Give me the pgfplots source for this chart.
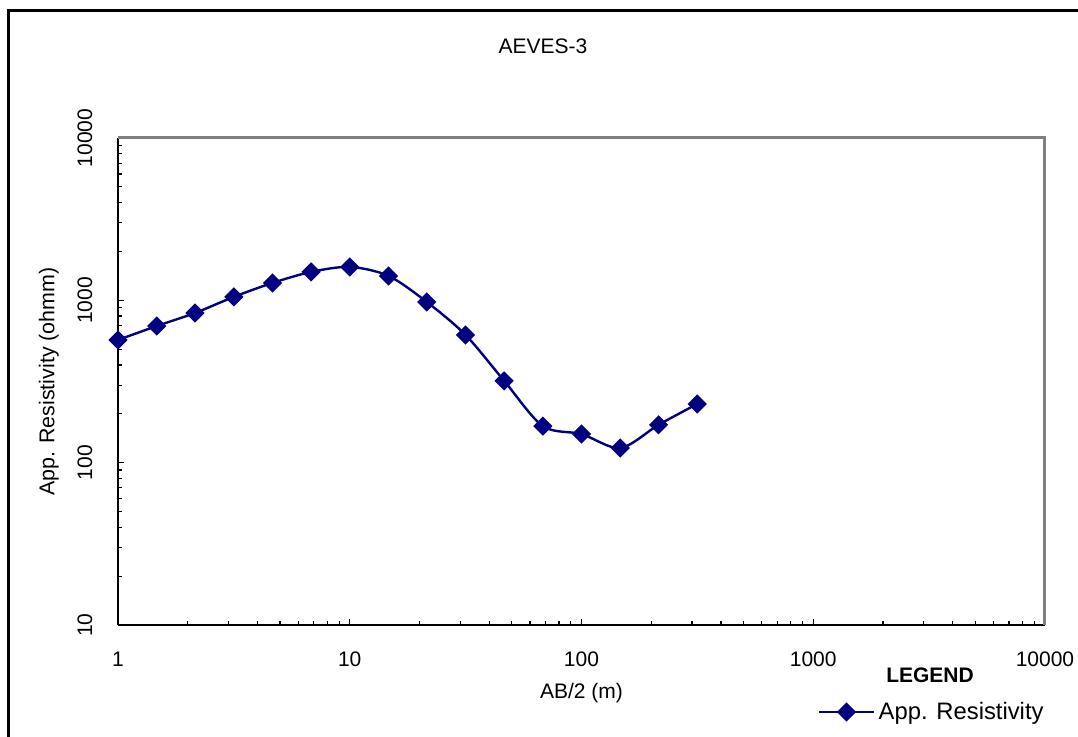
\documentclass[border=0pt]{standalone}
\usepackage{fontspec}
\setmainfont{Liberation Sans}
\usepackage{pgfplots}
\pgfplotsset{compat=1.18}
\definecolor{navyline}{RGB}{0,0,128}
\definecolor{framegray}{RGB}{128,128,128}
\begin{document}
\begin{tikzpicture}
\useasboundingbox (0,0) rectangle (539pt,368pt);
% outer chart frame (top and left edges visible)
\draw[line width=1.5pt,black] (4pt,-5pt) -- (4pt,363pt) -- (545pt,363pt);
\begin{axis}[
  at={(59pt,55.5pt)}, anchor=south west,
  scale only axis, width=463.5pt, height=243.5pt,
  xmode=log, ymode=log,
  xmin=1, xmax=10000, ymin=10, ymax=10000,
  axis x line*=bottom, axis y line*=left,
  axis line style={line width=1pt, black, -},
  tick align=inside,
  major tick length=3pt, minor tick length=2pt,
  every tick/.style={black, line width=0.6pt},
  xtick={1,10,100,1000,10000},
  xticklabels={1,10,100,1000,10000},
  ytick={10,100,1000,10000},
  yticklabels={10,100,1000,10000},
  every tick label/.append style={font=\fontsize{10.5}{12}\selectfont},
  xticklabel style={anchor=center, yshift=-17pt},
  yticklabel style={anchor=center, xshift=-16.5pt, rotate=90},
  title={AEVES-3},
  title style={at={(0.4585,1.164)}, anchor=center, font=\fontsize{10.5}{12}\selectfont},
  xlabel={AB/2 (m)},
  xlabel style={at={(0.5,-0.1396)}, anchor=center, font=\fontsize{10.5}{12}\selectfont},
  ylabel={App. Resistivity (ohmm)},
  ylabel style={at={(-0.0746,0.5)}, anchor=center, rotate=0, font=\fontsize{10.7}{12}\selectfont},
  clip=false,
  legend style={at={(0.755,-0.1786)}, anchor=west, draw=none, fill=none,
    inner sep=0pt, font=\fontsize{11.9}{13}\selectfont,
    nodes={font=\fontsize{11.9}{13}\selectfont},
    /tikz/every even column/.append style={column sep=2pt}},
  legend image code/.code={%
    \draw[mark repeat=2, mark phase=2] plot coordinates {(0pt,0pt) (13.5pt,0pt) (27pt,0pt)};},
]
\draw[framegray, line width=1.5pt] (rel axis cs:0,1) -- (rel axis cs:1,1) -- (rel axis cs:1,0);
\addplot[navyline, line width=1.2pt, smooth, mark=square*,
  mark size=2.8pt, mark options={rotate=45, solid, fill=navyline, draw=navyline}]
  coordinates {
  (1,570) (1.47,695) (2.15,836) (3.16,1050) (4.64,1280) (6.81,1496)
  (10,1606) (14.7,1414) (21.5,977) (31.6,612) (46.4,319) (68.1,168)
  (100,150) (147,123) (215,171) (316,230)
  };
\addlegendentry{App. Resistivity}
\node[font=\fontsize{10.5}{12}\selectfont\bfseries] at (rel axis cs:0.876,-0.1027) {LEGEND};
\end{axis}
\end{tikzpicture}
\end{document}
